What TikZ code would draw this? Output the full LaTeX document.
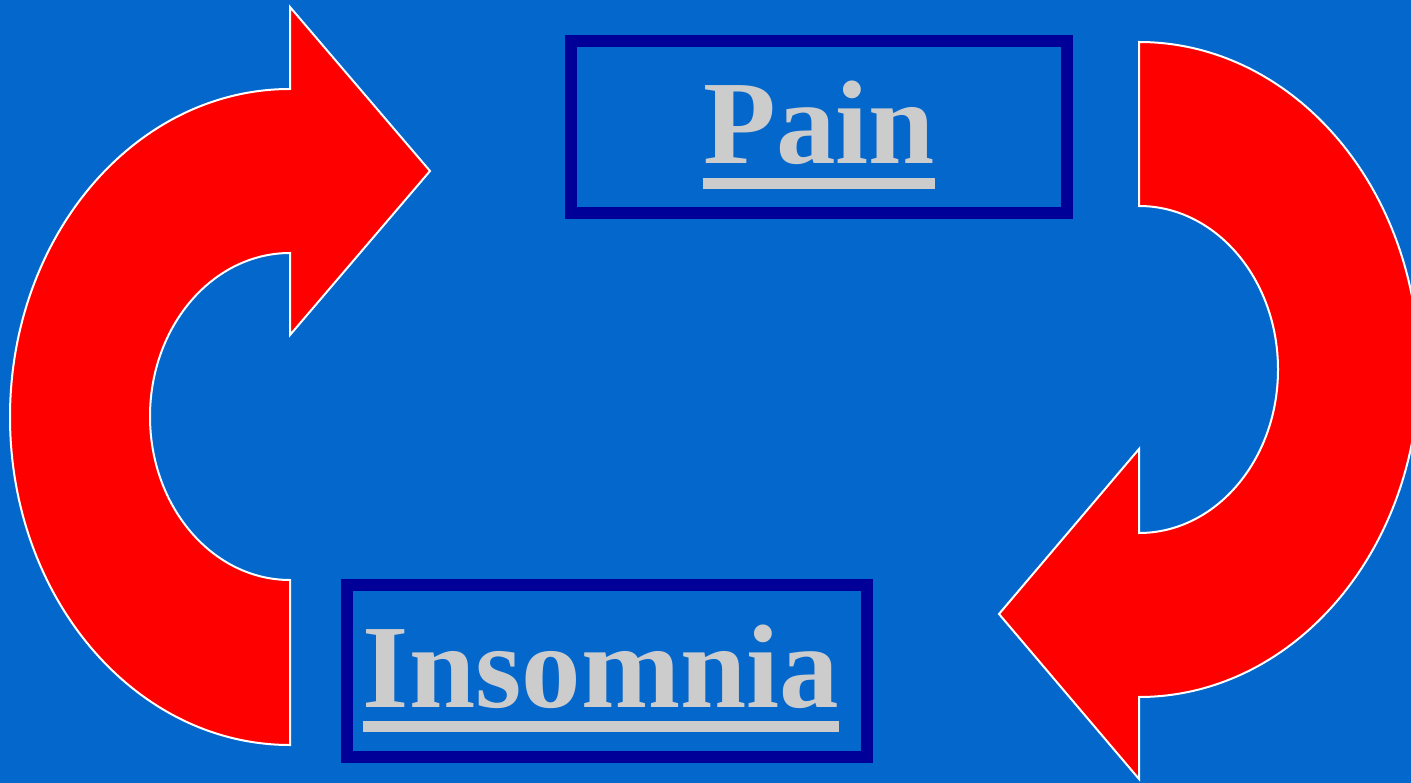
\documentclass[tikz,border=0pt]{standalone}
\usepackage{fontspec}
\setmainfont{Liberation Serif}
\usepackage{tikz}
\usetikzlibrary{positioning}
\definecolor{bgblue}{RGB}{4,103,204}
\definecolor{dblue}{RGB}{0,0,153}
\definecolor{lgray}{RGB}{204,204,204}
\definecolor{rred}{RGB}{255,0,0}
\newcommand{\ulword}[1]{\vtop{\hbox{#1}\kern13pt\hrule height 11pt}}
\tikzset{
  frame/.style={draw=dblue, line width=12pt, inner sep=0pt},
  word/.style={text=lgray, font=\fontsize{119}{119}\selectfont\bfseries, inner sep=0pt, anchor=base},
  bigarrow/.style={fill=rred, draw=white, line width=2pt, line join=miter},
  slide/.style={x=1pt, y=-1pt}
}
\begin{document}
\begin{tikzpicture}[slide]
        \fill[bgblue] (0,0) rectangle (1411,783);
        \useasboundingbox (0,0) rectangle (1411,783);
        \clip (0,0) rectangle (1411,783);
        % left arrow, going up
        \draw[bigarrow] (290,745) arc[start angle=90, end angle=270, x radius=280, y radius=328]
          -- (290,7) -- (430,171) -- (290,335) -- (290,253)
          arc[start angle=270, end angle=90, x radius=140, y radius=163.5] -- cycle;
        % right arrow, going down
        \draw[bigarrow] (1139,42) arc[start angle=-90, end angle=90, x radius=280, y radius=327.5]
          -- (1139,779) -- (999,614) -- (1139,449) -- (1139,533)
          arc[start angle=90, end angle=-90, x radius=139, y radius=163.5] -- cycle;
        % boxes
        \node[frame, minimum width=496pt, minimum height=172pt] (painbox) at (819,127) {};
        \node[frame, minimum width=520pt, minimum height=172pt] (insbox) at (607,671) {};
        \node[word] (pain) at (819,164) {\ulword{Pain}};
        \node[word] (insomnia) at (601,707) {\ulword{Insomnia}};
      \end{tikzpicture}
\end{document}
